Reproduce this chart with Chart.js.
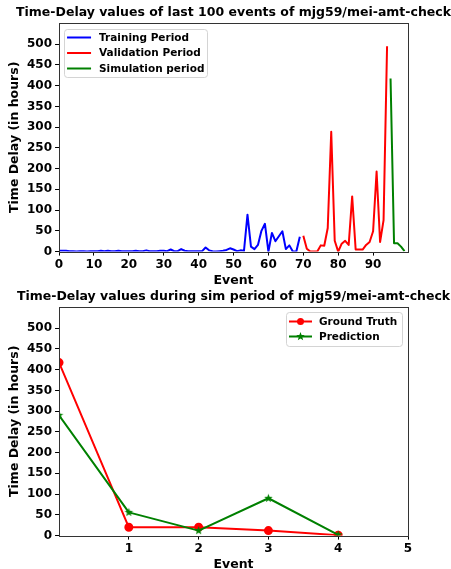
<!DOCTYPE html>
<html>
<head>
<meta charset="utf-8">
<script src="https://cdn.jsdelivr.net/npm/chart.js@4/dist/chart.umd.min.js"></script>
<style>
html,body{margin:0;padding:0;background:#fff;width:451px;height:569px;overflow:hidden;}
.c{position:absolute;left:0;}
</style>
</head>
<body>
<canvas id="top" class="c" style="top:0" width="451" height="285"></canvas>
<canvas id="bot" class="c" style="top:284px" width="451" height="285"></canvas>
<script>
// ---- data ----
const trainingValues = [2,2,2,1,1,0,1,1,0,1, 1,1,2,1,2,1,1,2,1,1, 1,1,2,1,1,3,1,1,1,2, 2,1,5,1,1,6,2,1,1,1, 1,1,10,3,1,0,1,2,4,8, 5,1,3,2,89,12,6,16,50,67, 0,45,25,37,49,6,15,0,0,36];
const validationValues = [38,7,0,0,0,15,14,57,289,26,0,19,26,16,133,5,5,5,16,23,49,193,23,76,495];
const simulationValues = [417,20,20,12,1];
const groundTruth = [417,20,20,12,1];
const prediction = [290,56,12,90,2];
const simEvents = [0,1,2,3,4];
const topXTicks = [0,10,20,30,40,50,60,70,80,90];
const yTicks = [0,50,100,150,200,250,300,350,400,450,500];
const botXTicks = [1,2,3,4,5];

const FONT = 'DejaVu Sans';
const tickFont = {family: FONT, weight: 'bold', size: 12};
const axisTitleFont = {family: FONT, weight: 'bold', size: 12.5};
const titleFontCss = 'bold 12.5px "DejaVu Sans"';
const legendFont = 'bold 10.5px "DejaVu Sans"';

function pts(values, start){ return values.map((v,i)=>({x:start+i, y:v})); }

// star marker
function makeStar(color, r){
  const c = document.createElement('canvas');
  const s = Math.ceil(r*2+2);
  c.width = s; c.height = s;
  const g = c.getContext('2d');
  g.translate(s/2, s/2);
  g.beginPath();
  for(let i=0;i<10;i++){
    const rr = i%2===0 ? r : r*0.42;
    const a = -Math.PI/2 + i*Math.PI/5;
    const px = rr*Math.cos(a), py = rr*Math.sin(a);
    if(i===0) g.moveTo(px,py); else g.lineTo(px,py);
  }
  g.closePath();
  g.fillStyle = color; g.fill();
  return c;
}
const starImg = makeStar('#008000', 4.5);

const framePlugin = {
  id: 'frame',
  afterDatasetsDraw(chart){
    const a = chart.chartArea, ctx = chart.ctx;
    ctx.save();
    ctx.strokeStyle = '#333';
    ctx.lineWidth = 1;
    ctx.strokeRect(Math.round(a.left)+0.5, Math.round(a.top)+0.5, Math.round(a.right-a.left), Math.round(a.bottom-a.top));
    ctx.restore();
  }
};

const axesTitle = {
  id: 'axesTitle',
  afterDraw(chart, args, opts){
    if(!opts || !opts.text) return;
    const ctx = chart.ctx, a = chart.chartArea;
    ctx.save();
    ctx.font = titleFontCss;
    ctx.fillStyle = '#000';
    ctx.textAlign = 'center';
    ctx.textBaseline = 'middle';
    ctx.fillText(opts.text, (a.left + a.right)/2, opts.y);
    ctx.restore();
  }
};

const boxLegend = {
  id: 'boxLegend',
  afterDraw(chart, args, opts){
    if(!opts || !opts.items) return;
    const ctx = chart.ctx;
    ctx.save();
    const a = chart.chartArea;
    const {w, h, items, rowH, first} = opts;
    const x = opts.anchor === 'right' ? a.right - opts.dx - w : a.left + opts.dx;
    const y = a.top + opts.dy;
    ctx.globalAlpha = 0.85;
    ctx.fillStyle = '#fff';
    ctx.strokeStyle = '#cccccc';
    ctx.lineWidth = 1;
    ctx.beginPath();
    if(ctx.roundRect) ctx.roundRect(Math.round(x)+0.5, Math.round(y)+0.5, w, h, 3); else ctx.rect(x+0.5,y+0.5,w,h);
    ctx.fill(); ctx.stroke();
    ctx.globalAlpha = 1;
    items.forEach((it, i) => {
      const cy = y + first + i*rowH;
      ctx.strokeStyle = it.color;
      ctx.lineWidth = 2;
      ctx.beginPath();
      ctx.moveTo(x+opts.lx0, cy); ctx.lineTo(x+opts.lx1, cy); ctx.stroke();
      const mx = x + (opts.lx0+opts.lx1)/2;
      if(it.marker === 'circle'){
        ctx.fillStyle = it.color;
        ctx.beginPath(); ctx.arc(mx, cy, 3.5, 0, Math.PI*2); ctx.fill();
      } else if(it.marker === 'star'){
        ctx.drawImage(starImg, mx - starImg.width/2, cy - starImg.height/2);
      }
      ctx.fillStyle = '#000';
      ctx.font = legendFont;
      ctx.textBaseline = 'middle';
      ctx.textAlign = 'left';
      ctx.fillText(it.text, x+opts.tx, cy+0.5);
    });
    ctx.restore();
  }
};

function axisY(){
  return {
    type: 'linear', min: 0, max: 551,
    afterBuildTicks: s => { s.ticks = yTicks.map(v=>({value:v})); },
    ticks: {font: tickFont, color: '#000', padding: 3},
    grid: {display: true, drawOnChartArea: false, drawTicks: true, tickLength: 4, color: '#000'},
    border: {display: false},
    title: {display: true, text: 'Time Delay (in hours)', font: axisTitleFont, color: '#000', padding: {top: 3, bottom: 2}}
  };
}
function axisX(min, max, ticksArr){
  return {
    type: 'linear', min: min, max: max,
    afterBuildTicks: s => { s.ticks = ticksArr.map(v=>({value:v})); },
    ticks: {font: tickFont, color: '#000', padding: 2, maxRotation: 0, autoSkip: false},
    grid: {display: true, drawOnChartArea: false, drawTicks: true, tickLength: 4, color: '#000'},
    border: {display: false},
    title: {display: true, text: 'Event', font: axisTitleFont, color: '#000', padding: {top: -1, bottom: 0}}
  };
}

Chart.defaults.font.family = FONT;
const lineStyle = {borderWidth: 2, pointRadius: 0, tension: 0, borderJoinStyle: 'round', borderCapStyle: 'butt'};

new Chart(document.getElementById('top'), {
  type: 'line',
  data: {
    datasets: [
      Object.assign({label: 'Training Period', data: pts(trainingValues, 0), borderColor: '#0000ff'}, lineStyle),
      Object.assign({label: 'Validation Period', data: pts(validationValues, trainingValues.length), borderColor: '#ff0000'}, lineStyle),
      Object.assign({label: 'Simulation period', data: pts(simulationValues, trainingValues.length + validationValues.length), borderColor: '#008000'}, lineStyle)
    ]
  },
  options: {
    responsive: false, animation: false,
    layout: {padding: {left: 4, right: 43, top: 23, bottom: -3}},
    plugins: {
      legend: {display: false}, tooltip: {enabled: false}, title: {display: false},
      axesTitle: {text: 'Time-Delay values of last 100 events of mjg59/mei-amt-check', y: 12.5},
      boxLegend: {anchor: 'left', dx: 5, dy: 6, w: 143, h: 48, rowH: 15.5, first: 8.5, lx0: 3, lx1: 27, tx: 35,
        items: [
          {text: 'Training Period', color: '#0000ff'},
          {text: 'Validation Period', color: '#ff0000'},
          {text: 'Simulation period', color: '#008000'}
        ]}
    },
    scales: {x: axisX(0, 100, topXTicks), y: axisY()}
  },
  plugins: [framePlugin, axesTitle, boxLegend]
});

new Chart(document.getElementById('bot'), {
  type: 'line',
  data: {
    datasets: [
      {label: 'Ground Truth', data: simEvents.map((e,i)=>({x:e, y:groundTruth[i]})), borderColor: '#ff0000', backgroundColor: '#ff0000', borderWidth: 2, pointRadius: 3.5, pointStyle: 'circle', tension: 0, borderJoinStyle: 'round', order: 1},
      {label: 'Prediction', data: simEvents.map((e,i)=>({x:e, y:prediction[i]})), borderColor: '#008000', backgroundColor: '#008000', borderWidth: 2, pointRadius: 4, pointStyle: starImg, tension: 0, borderJoinStyle: 'round', order: 0}
    ]
  },
  options: {
    responsive: false, animation: false,
    layout: {padding: {left: 4, right: 43, top: 23, bottom: -3}},
    plugins: {
      legend: {display: false}, tooltip: {enabled: false}, title: {display: false},
      axesTitle: {text: 'Time-Delay values during sim period of mjg59/mei-amt-check', y: 12.5},
      boxLegend: {anchor: 'right', dx: 6, dy: 5, w: 116, h: 34, rowH: 15, first: 9.5, lx0: 3, lx1: 26, tx: 33,
        items: [
          {text: 'Ground Truth', color: '#ff0000', marker: 'circle'},
          {text: 'Prediction', color: '#008000', marker: 'star'}
        ]}
    },
    scales: {x: axisX(0, 5, botXTicks), y: axisY()}
  },
  plugins: [framePlugin, axesTitle, boxLegend]
});
</script>
</body>
</html>
